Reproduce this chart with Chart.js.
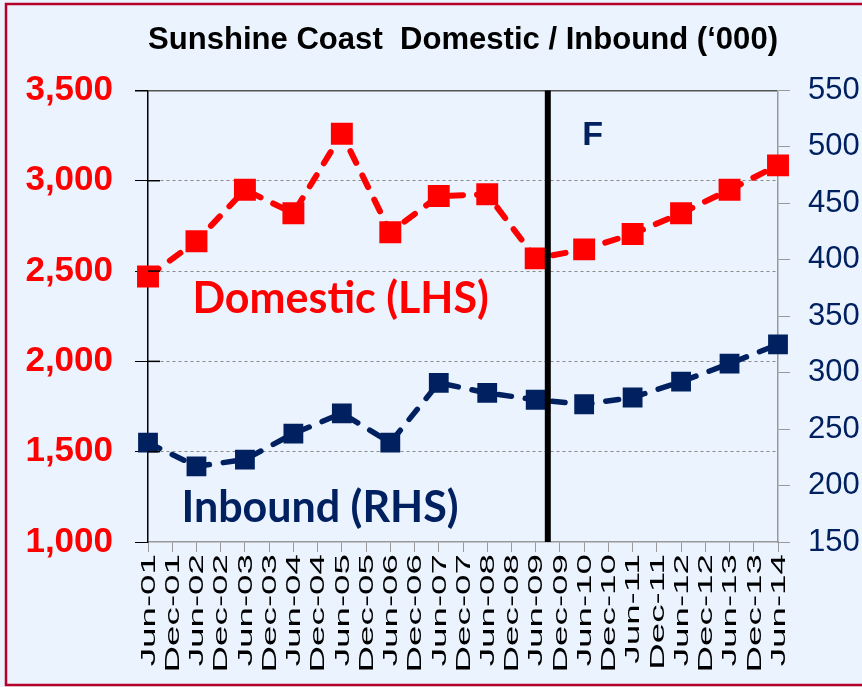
<!DOCTYPE html>
<html>
<head>
<meta charset="utf-8">
<title>Sunshine Coast Domestic / Inbound</title>
<script src="https://cdn.jsdelivr.net/npm/chart.js@4/dist/chart.umd.min.js"></script>
<style>
  html, body { margin: 0; padding: 0; background: #eaf3fe; overflow: hidden; }
  #wrap { position: relative; width: 862px; height: 687px; }
</style>
</head>
<body>
<div id="wrap"><canvas id="visitorChart" width="862" height="687"></canvas></div>
<script>
// half-yearly axis, values only at June
const periods = [
  "Jun-01", "Dec-01", "Jun-02", "Dec-02", "Jun-03", "Dec-03", "Jun-04", "Dec-04",
  "Jun-05", "Dec-05", "Jun-06", "Dec-06", "Jun-07", "Dec-07", "Jun-08", "Dec-08",
  "Jun-09", "Dec-09", "Jun-10", "Dec-10", "Jun-11", "Dec-11", "Jun-12", "Dec-12",
  "Jun-13", "Dec-13", "Jun-14"
];
const domestic = [
  2470, null, 2665, null, 2950, null, 2820, null, 3260, null, 2715, null, 2915, null,
  2925, null, 2570, null, 2620, null, 2705, null, 2820, null, 2950, null, 3085
];
const inbound = [
  238, null, 217, null, 223, null, 246, null, 264, null, 238, null, 291, null,
  282, null, 276, null, 272, null, 278, null, 292, null, 308, null, 325
];
const leftTicks = [1000, 1500, 2000, 2500, 3000, 3500];
const rightTicks = [150, 200, 250, 300, 350, 400, 450, 500, 550];

const RED = "#ff0000";
const NAVY = "#002060";
const BG = "#eaf3fe";

// page background + crimson frame
const frame = {
  id: "frame",
  beforeDraw(chart) {
    const ctx = chart.ctx;
    ctx.save();
    ctx.fillStyle = BG;
    ctx.fillRect(0, 0, chart.width, chart.height);
    ctx.strokeStyle = "#b5002a";
    ctx.lineWidth = 2.5;
    ctx.strokeRect(6, 4, chart.width + 10, chart.height - 6);
    ctx.restore();
  }
};

// forecast divider, series captions and the tall rotated period labels
const extras = {
  id: "extras",
  afterDatasetsDraw(chart) {
    const { ctx, chartArea, scales } = chart;
    const x = scales.x, yl = scales.yLeft, yr = scales.yRight;
    ctx.save();

    // short inner stubs of the left axis ticks
    ctx.strokeStyle = "#000";
    ctx.lineWidth = 1.5;
    leftTicks.slice(1, -1).forEach(v => {
      const y = yl.getPixelForValue(v);
      ctx.beginPath();
      ctx.moveTo(chartArea.left, y);
      ctx.lineTo(chartArea.left + 12, y);
      ctx.stroke();
    });

    const xf = x.getPixelForValue(16.5);
    ctx.lineWidth = 6;
    ctx.beginPath();
    ctx.moveTo(xf, chartArea.top);
    ctx.lineTo(xf, chartArea.bottom);
    ctx.stroke();

    ctx.textAlign = "center";
    ctx.textBaseline = "middle";
    ctx.fillStyle = NAVY;
    ctx.font = "bold 34px 'Liberation Sans', Arial, sans-serif";
    ctx.fillText("F", x.getPixelForValue(18.35), yl.getPixelForValue(3250));

    ctx.font = "bold 43px Lato, 'Open Sans', sans-serif";
    ctx.fillStyle = RED;
    ctx.fillText("Domestic (LHS)", x.getPixelForValue(7.95), yl.getPixelForValue(2345));
    ctx.fillStyle = NAVY;
    ctx.fillText("Inbound (RHS)", x.getPixelForValue(7.1), yr.getPixelForValue(180));
    ctx.restore();
  },
  afterDraw(chart) {
    const { ctx, scales } = chart;
    const x = scales.x;
    ctx.save();
    ctx.fillStyle = "#000";
    ctx.font = "21px 'Liberation Sans', Arial, sans-serif";
    ctx.textAlign = "right";
    ctx.textBaseline = "middle";
    periods.forEach((p, i) => {
      ctx.save();
      ctx.translate(x.getPixelForValue(i) + 1, x.top + 12);
      ctx.rotate(-Math.PI / 2);
      ctx.scale(1.75, 1);
      ctx.fillText(p, 0, 0);
      ctx.restore();
    });
    ctx.restore();
  }
};

const isTop = c => c.tick && c.tick.value === 3500;
const isBase = c => !c.tick || c.tick.value === 1000;

const ctx = document.getElementById("visitorChart").getContext("2d");
new Chart(ctx, {
  type: "line",
  data: {
    labels: periods,
    datasets: [
      {
        label: "Domestic (LHS)",
        data: domestic,
        yAxisID: "yLeft",
        borderColor: RED,
        backgroundColor: RED,
        borderWidth: 6,
        borderDash: [13, 14],
        borderCapStyle: "round",
        pointStyle: "rect",
        pointRadius: 15.5,
        pointBorderWidth: 0,
        spanGaps: true,
        tension: 0
      },
      {
        label: "Inbound (RHS)",
        data: inbound,
        yAxisID: "yRight",
        borderColor: NAVY,
        backgroundColor: NAVY,
        borderWidth: 5.5,
        borderDash: [13, 14],
        borderCapStyle: "round",
        pointStyle: "rect",
        pointRadius: 14,
        pointBorderWidth: 0,
        spanGaps: true,
        tension: 0
      }
    ]
  },
  options: {
    responsive: false,
    animation: false,
    layout: { padding: 0 },
    plugins: {
      legend: { display: false },
      tooltip: { enabled: false },
      title: {
        display: true,
        fullSize: false,
        text: "Sunshine Coast  Domestic / Inbound (\u2018000)",
        color: "#000",
        font: { family: "'Liberation Sans', Arial, sans-serif", size: 32, weight: "bold", lineHeight: 1.2 },
        padding: { top: 21, bottom: 31 }
      }
    },
    scales: {
      x: {
        type: "category",
        offset: false,
        ticks: { display: false, autoSkip: false },
        grid: {
          drawOnChartArea: false,
          drawTicks: true,
          tickLength: 10,
          tickColor: "#999",
          color: "#999"
        },
        border: { display: true, color: "#999", width: 1.5 },
        afterFit(scale) { scale.height = 145; }
      },
      yLeft: {
        position: "left",
        min: 1000,
        max: 3500,
        afterBuildTicks(scale) { scale.ticks = leftTicks.map(v => ({ value: v })); },
        ticks: {
          color: RED,
          padding: 22,
          font: { family: "'Liberation Sans', Arial, sans-serif", size: 35, weight: "bold" },
          callback: v => v.toLocaleString("en-US")
        },
        grid: {
          tickLength: 13,
          tickColor: "#000",
          tickBorderDash: [],
          color: c => (isTop(c) ? "#555" : isBase(c) ? "rgba(0,0,0,0)" : "#8a8a8a"),
          lineWidth: c => (isTop(c) ? 1.5 : 1)
        },
        border: {
          display: true,
          color: "#000",
          width: 1.5,
          dash: c => (isTop(c) || isBase(c) ? [] : [3, 3])
        },
        afterFit(scale) { scale.width = 148; }
      },
      yRight: {
        position: "right",
        min: 150,
        max: 550,
        afterBuildTicks(scale) { scale.ticks = rightTicks.map(v => ({ value: v })); },
        ticks: {
          color: NAVY,
          padding: 18,
          font: { family: "'Liberation Sans', Arial, sans-serif", size: 31 }
        },
        grid: {
          drawOnChartArea: false,
          tickLength: 12,
          tickColor: "#999"
        },
        border: { display: true, color: "#999", width: 1.5 },
        afterFit(scale) { scale.width = 84; }
      }
    }
  },
  plugins: [frame, extras]
});
</script>
</body>
</html>
